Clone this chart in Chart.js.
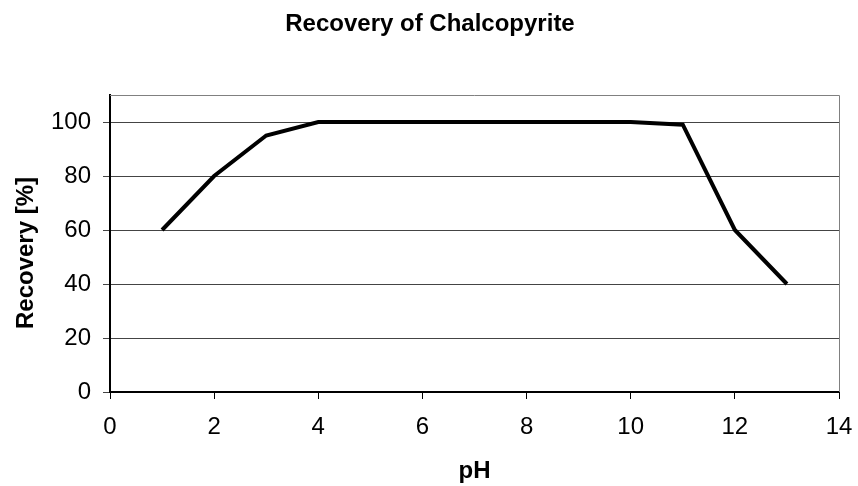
<!DOCTYPE html>
<html>
<head>
<meta charset="utf-8">
<script src="https://cdn.jsdelivr.net/npm/chart.js@4/dist/chart.umd.min.js"></script>
<style>html,body{margin:0;padding:0;background:#fff;}canvas{display:block;}</style>
</head>
<body>
<canvas id="c" width="858" height="486"></canvas>
<script>
const chartTitle = "Recovery of Chalcopyrite";
const xAxisTitle = "pH";
const yAxisTitle = "Recovery [%]";
const phValues = [1, 2, 3, 4, 5, 6, 7, 8, 9, 10, 11, 12, 13];
const recovery = [60, 80, 95, 100, 100, 100, 100, 100, 100, 100, 99, 60, 40];
const xTicks = [0, 2, 4, 6, 8, 10, 12, 14];
const yTicks = [0, 20, 40, 60, 80, 100];

const FONT = "'Liberation Sans', Arial, sans-serif";

const frame = {
  id: 'frame',
  afterDraw(chart) {
    const {ctx, chartArea: a} = chart;
    ctx.save();
    ctx.strokeStyle = '#808080';
    ctx.lineWidth = 1;
    ctx.beginPath();
    ctx.moveTo(a.left, a.top + 0.5);
    ctx.lineTo(a.right + 0.5, a.top + 0.5);
    ctx.lineTo(a.right + 0.5, a.bottom);
    ctx.stroke();
    ctx.fillStyle = '#000';
    ctx.font = 'bold 24px ' + FONT;
    ctx.textAlign = 'center';
    ctx.textBaseline = 'middle';
    // chart title
    ctx.fillText(chartTitle, 430, 24);
    // y axis title
    ctx.translate(26, 253);
    ctx.rotate(-Math.PI / 2);
    ctx.fillText(yAxisTitle, 0, 0);
    ctx.restore();
  }
};

new Chart(document.getElementById('c'), {
  type: 'line',
  data: {
    datasets: [{
      data: phValues.map((x, i) => ({x: x, y: recovery[i]})),
      borderColor: '#000',
      borderWidth: 4,
      pointRadius: 0,
      tension: 0,
      fill: false
    }]
  },
  options: {
    responsive: false,
    animation: false,
    layout: {padding: {left: 0, right: 19, top: 95, bottom: 0}},
    plugins: {
      legend: {display: false},
      tooltip: {enabled: false},
      title: {display: false}
    },
    scales: {
      x: {
        type: 'linear',
        min: xTicks[0],
        max: xTicks[xTicks.length - 1],
        afterBuildTicks: s => { s.ticks = xTicks.map(v => ({value: v})); },
        afterFit: s => { s.height = 94; s.paddingLeft = 0; s.paddingRight = 0; },
        ticks: {color: '#000', font: {family: FONT, size: 24}, padding: 14, maxRotation: 0},
        grid: {drawOnChartArea: false, drawTicks: true, tickLength: 7, color: '#000', tickWidth: 1},
        border: {display: true, color: '#000', width: 2},
        title: {display: true, text: xAxisTitle, color: '#000', font: {family: FONT, size: 24, weight: 'bold'}, padding: {top: 0, bottom: 0}}
      },
      y: {
        min: 0,
        max: 110,
        afterBuildTicks: s => { s.ticks = yTicks.map(v => ({value: v})); },
        afterFit: s => { s.width = 110; s.paddingTop = 0; s.paddingBottom = 0; },
        ticks: {color: '#000', font: {family: FONT, size: 24}, padding: 12},
        grid: {color: '#444', lineWidth: 1, tickLength: 7, drawTicks: true},
        border: {display: true, color: '#000', width: 2}
      }
    }
  },
  plugins: [frame]
});
</script>
</body>
</html>
